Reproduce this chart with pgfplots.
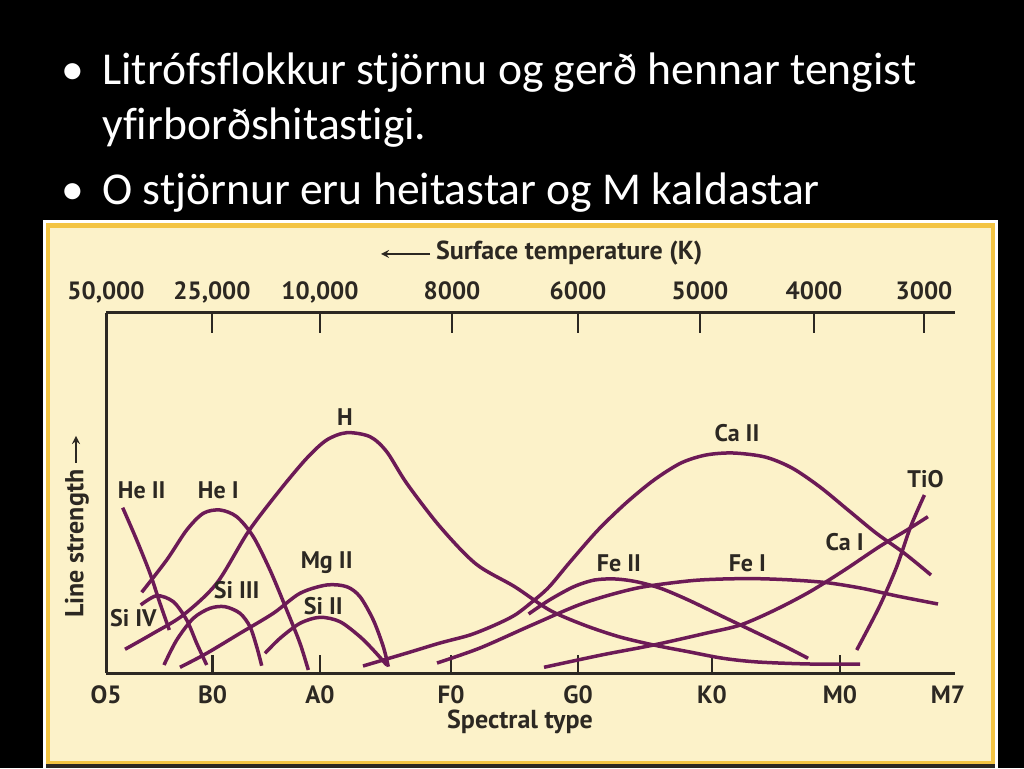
\documentclass[border=0pt]{standalone}
\usepackage{pgfplots}
\pgfplotsset{compat=1.18}
\usepackage{fontspec}
\setmainfont{Carlito}[Ligatures=NoCommon]
\newfontfamily\chartfont{PT Sans}[BoldFont={PT Sans Bold}]

\definecolor{cream}{HTML}{FCF2C9}
\definecolor{gold}{HTML}{F3C443}
\definecolor{plum}{HTML}{6C1A56}
\definecolor{ink}{HTML}{2C2822}

\newcommand\cf{\chartfont\bfseries\fontsize{25}{28}\selectfont}
\newcommand\ttl{\chartfont\bfseries\fontsize{26}{28}\selectfont}
\newcommand\lbl{\chartfont\bfseries\fontsize{24}{26}\selectfont}

\tikzset{curve/.style={plum, solid, line width=3.5pt, smooth, mark=none}}

\begin{document}
\begin{tikzpicture}
% slide and panel, in pixels (pt) from the bottom left
\fill[black] (0pt,0pt) rectangle (1024pt,768pt);
\fill[white] (43pt,0pt) rectangle (998pt,548pt);
\fill[gold] (46pt,3pt) rectangle (995pt,545pt);
\fill[cream] (50pt,7pt) rectangle (991pt,540pt);
\fill[ink] (46pt,0pt) rectangle (995pt,4pt);

% bullet text
\begin{scope}[every node/.style={text=white, inner sep=0pt, font=\fontsize{45.6}{54}\selectfont}]
\node[anchor=base] at (73pt,683pt) {\textbullet};
\node[anchor=base west] at (102pt,683pt) {Litrófsflokkur stjörnu og gerð hennar tengist};
\node[anchor=base west] at (102pt,628pt) {yfirborðshitastigi.};
\node[anchor=base] at (73pt,563pt) {\textbullet};
\node[anchor=base west] at (102pt,563pt) {O stjörnur eru heitastar og M kaldastar};
\end{scope}

% axis titles
\node[text=ink, font=\ttl, anchor=west, inner sep=0pt] at (436pt,515pt) {Surface temperature (K)};
\draw[ink, line width=2.5pt, -stealth] (430pt,514pt) -- (381pt,514pt);
\node[text=ink, font=\ttl, inner sep=0pt] at (520pt,46pt) {Spectral type};
\node[text=ink, font=\ttl, rotate=90, anchor=west, inner sep=0pt] at (77pt,150pt) {Line strength};
\draw[ink, line width=2.5pt, -stealth] (76pt,305pt) -- (76pt,332pt);

% bottom axis: spectral type, curves
\begin{axis}[
  at={(106pt,95pt)}, anchor=south west,
  scale only axis, width=849pt, height=360pt,
  xmin=106, xmax=955, ymin=0, ymax=360,
  clip=false,
  axis x line=bottom, axis y line=left,
  axis line style={ink, line width=3pt, -},
  ytick=\empty,
  xtick={212.5,320,451,578,712,840},
  xticklabels={B0,A0,F0,G0,K0,M0},
  extra x ticks={106,948},
  extra x tick labels={O5,M7},
  extra x tick style={major tick length=0pt},
  tick align=inside,
  major tick length=18pt,
  tick style={ink, line width=2.5pt},
  xticklabel style={font=\cf, text=ink, anchor=base, yshift=-30pt},
]
% He II
\addplot[curve] coordinates {(122.7,165.3) (136.7,133) (150,99.7) (160,69.7) (169.3,43)};
% He I
\addplot[curve] coordinates {(141.7,80.7) (166.7,113) (186.7,143) (203.3,159.7) (220,163) (236.7,156.3) (253.3,136.3) (270,103) (286.7,63) (300,29.7) (308.3,3)};
% Si IV
\addplot[curve] coordinates {(140.7,68) (156.7,77.3) (173.3,71.3) (186.7,53) (196.7,29.7) (206.7,8)};
% Si III
\addplot[curve] coordinates {(164,8) (176.7,33) (193.3,54.7) (210,64.7) (225,66.3) (240,59.7) (250,46.3) (256.7,26.3) (261.7,7.3)};
% Mg II
\addplot[curve] coordinates {(180,5.7) (206.7,19.7) (240,39.7) (273.3,59.7) (300,79.7) (326.7,88) (346.7,86.3) (360,76.3) (373.3,53) (383.3,26.3) (388.3,6.3)};
% Si II
\addplot[curve] coordinates {(265,19.7) (280,34.7) (300,49.7) (320,55.7) (340,51.3) (360,36.3) (373.3,23) (386.7,8)};
% H
\addplot[curve] coordinates {(125,23.7) (153.3,39.7) (183.3,58) (216.7,89.7) (248.3,141.3) (280,183) (306.7,214.7) (326.7,233) (346.7,240.3) (370,236.3) (386.7,221.3) (406.7,189.7) (440,146.3) (476,109) (514.7,86.3) (549.4,63) (584,48) (618.9,36.3) (653.6,28) (688.3,21.3) (723,14.7) (757.8,11) (809.9,9) (860,9)};
% Ca II
\addplot[curve] coordinates {(363,7) (407,20) (440,30) (470,38) (495,48) (515,58) (532,71) (549,86) (570,111) (598,143) (626,170) (654,193) (681,210) (706,218) (733,220) (765,216) (792,205) (820,186) (848,163) (876,140) (904,120) (931,98)};
% Fe II
\addplot[curve] coordinates {(528.6,59) (549.4,73) (573.8,86.3) (594.6,93) (615.4,94) (636.3,91.3) (660.6,84.7) (688.3,73) (723,56.3) (757.8,39.7) (785.6,26.3) (808.1,14.7)};
% Fe I
\addplot[curve] coordinates {(437,10) (480,25) (532,48) (584,70) (636,84.7) (688,92) (723,94) (758,94.3) (792,93) (827,90.3) (862,84.7) (897,77) (938,69)};
% Ca I
\addplot[curve] coordinates {(544,5.7) (601.5,18) (653.6,28) (705.7,39.7) (740.4,48) (775,63) (809.9,81.3) (844.6,103) (879.3,126.3) (907,143) (927.9,156.3)};
% TiO
\addplot[curve] coordinates {(856.7,23) (879.3,66.3) (896.7,106.3) (910.6,146.3) (924.4,178)};

\begin{scope}[every node/.style={font=\lbl, text=ink, inner sep=0pt}]
\node at (axis cs:141.7,182.3) {He II};
\node at (axis cs:218.3,182.3) {He I};
\node at (axis cs:345,256) {H};
\node at (axis cs:133.3,54.7) {Si IV};
\node at (axis cs:236.7,83) {Si III};
\node at (axis cs:326.7,110.3) {Mg II};
\node at (axis cs:323.3,67) {Si II};
\node at (axis cs:737,240.3) {Ca II};
\node at (axis cs:925.5,194) {TiO};
\node at (axis cs:844.6,131.3) {Ca I};
\node at (axis cs:618.9,109.7) {Fe II};
\node at (axis cs:747.4,109.7) {Fe I};
\end{scope}
\end{axis}

% top axis: surface temperature
\begin{axis}[
  at={(106pt,95pt)}, anchor=south west,
  scale only axis, width=849pt, height=360pt,
  xmin=106, xmax=955, ymin=0, ymax=360,
  axis x line=top, axis y line=none,
  axis line style={ink, line width=3pt, -},
  ytick=\empty,
  xtick={212,320,452,578,700,814,924},
  xticklabels={25{,}000,10{,}000,8000,6000,5000,4000,3000},
  extra x ticks={106},
  extra x tick labels={50{,}000},
  extra x tick style={major tick length=0pt},
  tick align=inside,
  major tick length=20pt,
  tick style={ink, line width=2.5pt},
  xticklabel style={font=\cf, text=ink, anchor=base, yshift=13pt},
]
\addplot[draw=none] coordinates {(106,0) (955,0)};
\end{axis}
\end{tikzpicture}
\end{document}
